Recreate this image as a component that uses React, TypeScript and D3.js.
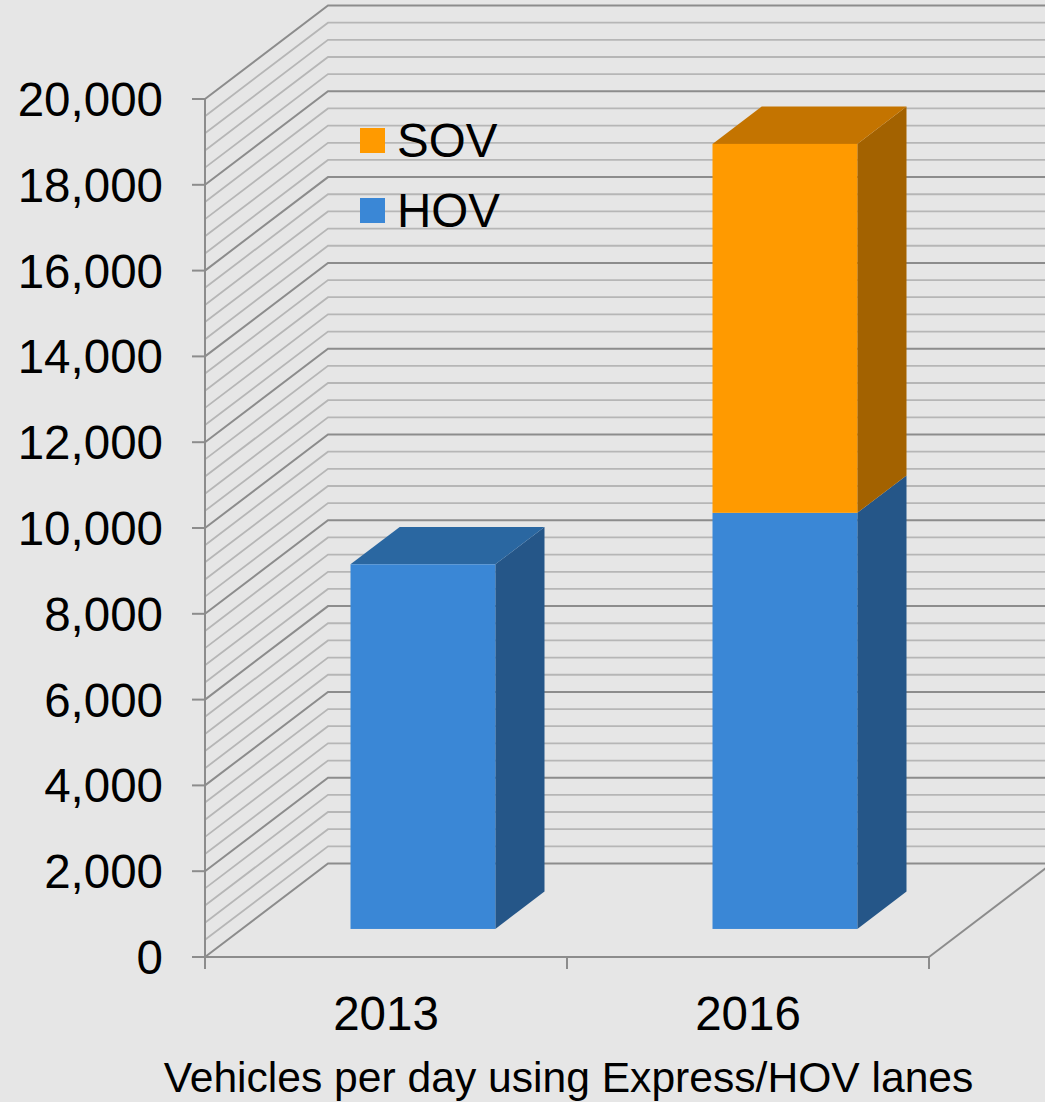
import React from "react";
import * as d3 from "d3";

const categories = ["2013", "2016"];
const hovValues = [8500, 9700];
const sovValues = [0, 8600];
const yTicks = [0, 2000, 4000, 6000, 8000, 10000, 12000, 14000, 16000, 18000, 20000];
const minorStep = 400;
const legendItems = ["SOV", "HOV"];
const xTitle = "Vehicles per day using Express/HOV lanes";

const W = 1045;
const H = 1102;
const BG = "#e6e6e6";
const MAJOR = "#8c8c8c";
const MINOR = "#b6b6b6";
const FONT = "'Liberation Sans', Arial, sans-serif";

const colors: Record<string, { front: string; top: string; side: string }> = {
  HOV: { front: "#3a87d6", top: "#2a67a1", side: "#255688" },
  SOV: { front: "#ff9a00", top: "#c47400", side: "#a36200" },
};

export default function App() {
  const left = 205;
  const right = 929;
  const depth = { dx: 123, dy: -93.5 };
  const y = d3.scaleLinear().domain([0, 20000]).range([957, 99]);
  const x = d3.scaleBand<string>().domain(categories).range([left, right]).padding(0);
  const step = x.step();
  const barW = step * 0.4;
  const t0 = 0.3;
  const t1 = 0.7;

  const minorVals = d3.range(0, 20000 + 1, minorStep);

  const pt = (px: number, py: number) => `${px},${py}`;

  const bars: React.ReactNode[] = [];
  categories.forEach((c, i) => {
    const cx = (x(c) as number) + step / 2;
    const fx = cx - barW / 2 + depth.dx * t0;
    const fy = depth.dy * t0;
    const ddx = depth.dx * (t1 - t0);
    const ddy = depth.dy * (t1 - t0);
    const segs = [
      { key: "HOV", v0: 0, v1: hovValues[i] },
      { key: "SOV", v0: hovValues[i], v1: hovValues[i] + sovValues[i] },
    ].filter((s) => s.v1 > s.v0);
    segs.forEach((s, j) => {
      const col = colors[s.key];
      const yb = y(s.v0) + fy;
      const yt = y(s.v1) + fy;
      const isTop = j === segs.length - 1;
      bars.push(
        <g key={`${c}-${s.key}`}>
          <polygon
            points={[pt(fx + barW, yb), pt(fx + barW + ddx, yb + ddy), pt(fx + barW + ddx, yt + ddy), pt(fx + barW, yt)].join(" ")}
            fill={col.side}
          />
          {isTop && (
            <polygon
              points={[pt(fx, yt), pt(fx + barW, yt), pt(fx + barW + ddx, yt + ddy), pt(fx + ddx, yt + ddy)].join(" ")}
              fill={col.top}
            />
          )}
          <rect x={fx} y={yt} width={barW} height={yb - yt} fill={col.front} />
        </g>
      );
    });
  });

  return (
    <svg
      width={W}
      height={H}
      style={{ position: "fixed", left: 0, top: 0, display: "block" }}
      fontFamily={FONT}
    >
      <rect x={0} y={0} width={W} height={H} fill={BG} />
      {/* back wall + side wall gridlines */}
      {minorVals.map((v) => {
        const isMajor = v % 2000 === 0;
        const yy = y(v);
        return (
          <g key={`g${v}`} stroke={isMajor ? MAJOR : MINOR} strokeWidth={isMajor ? 2 : 1.8} fill="none">
            <polyline
              points={[pt(left, yy), pt(left + depth.dx, yy + depth.dy), pt(right + depth.dx, yy + depth.dy)].join(" ")}
            />
          </g>
        );
      })}
      {/* floor */}
      <g stroke={MAJOR} strokeWidth={2} fill="none">
        <line x1={left} y1={y(0)} x2={right} y2={y(0)} />
        <line x1={right} y1={y(0)} x2={right + depth.dx} y2={y(0) + depth.dy} />
        {/* vertical axis */}
        <line x1={left} y1={y(20000)} x2={left} y2={y(0) + 12} />
        {yTicks.map((v) => (
          <line key={`t${v}`} x1={left - 13} y1={y(v)} x2={left} y2={y(v)} />
        ))}
        {[left, ...categories.map((c) => (x(c) as number) + step)].map((xx, k) => (
          <line key={`xt${k}`} x1={xx} y1={y(0)} x2={xx} y2={y(0) + 12} />
        ))}
      </g>
      {bars}
      {/* y labels */}
      {yTicks.map((v) => (
        <text
          key={`yl${v}`}
          x={163}
          y={y(v) + 17}
          textAnchor="end"
          fontSize={47.5}
          fill="#000"
        >
          {d3.format(",")(v)}
        </text>
      ))}
      {/* x labels */}
      {categories.map((c) => (
        <text key={`xl${c}`} x={(x(c) as number) + step / 2} y={1030} textAnchor="middle" fontSize={47.5} fill="#000">
          {c}
        </text>
      ))}
      <text x={568.5} y={1092} textAnchor="middle" fontSize={42.6} fill="#000">
        {xTitle}
      </text>
      {/* legend */}
      {legendItems.map((k, i) => (
        <g key={`lg${k}`} transform={`translate(360, ${128 + i * 70})`}>
          <rect x={0} y={0} width={25} height={25} fill={colors[k].front} />
          <text x={37} y={29} fontSize={47.5} fill="#000">
            {k}
          </text>
        </g>
      ))}
    </svg>
  );
}
